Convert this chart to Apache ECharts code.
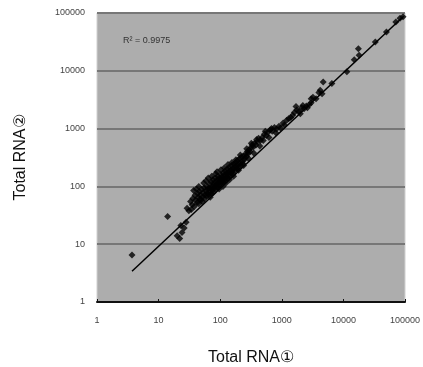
<!DOCTYPE html>
<html>
<head>
<meta charset="utf-8">
<script src="https://cdn.jsdelivr.net/npm/echarts@6/dist/echarts.min.js"></script>
<style>
  html, body { margin: 0; padding: 0; background: #fff; }
  #chart { width: 423px; height: 367px; }
</style>
</head>
<body>
<div id="chart"></div>
<script>
// measured points [Total RNA1, Total RNA2]
const points = [
  [3.7, 6.5], [14, 30], [20, 14], [22, 12.5], [24, 16], [26, 19], [23, 21], [28, 24],
  [29, 42], [31, 38], [33, 55], [35, 48], [36, 62], [38, 45], [39, 70], [40, 58],
  [42, 52], [43, 75], [44, 64], [45, 50], [46, 82], [47, 60], [48, 70], [50, 88],
  [51, 55], [52, 66], [53, 78], [55, 95], [56, 62], [57, 72], [58, 84], [60, 68],
  [61, 100], [62, 76], [63, 88], [65, 72], [66, 94], [67, 110], [68, 80], [70, 90],
  [71, 120], [72, 75], [74, 98], [75, 85], [76, 130], [78, 105], [79, 92], [80, 115],
  [82, 100], [83, 140], [85, 88], [86, 122], [88, 108], [90, 96], [91, 132], [92, 150],
  [94, 115], [95, 104], [97, 138], [99, 125], [100, 110], [102, 160], [104, 120], [106, 145],
  [108, 130], [110, 118], [112, 170], [114, 140], [116, 126], [118, 155], [120, 185], [122, 135],
  [125, 165], [128, 148], [130, 200], [132, 140], [135, 175], [138, 160], [140, 215], [143, 150],
  [146, 190], [150, 170], [153, 230], [156, 182], [160, 200], [163, 165], [166, 245], [170, 210],
  [174, 190], [178, 260], [182, 225], [186, 205], [190, 280], [195, 240], [200, 215], [205, 300],
  [210, 255], [215, 230], [220, 320], [226, 270], [232, 250], [238, 340], [245, 290], [252, 310],
  [260, 360], [268, 330], [275, 400], [285, 370], [295, 430], [305, 400], [318, 470], [330, 520],
  [345, 480], [360, 560], [380, 520], [400, 600], [420, 680], [450, 620], [480, 700], [520, 800],
  [560, 760], [600, 870], [650, 950], [700, 900], [760, 1050], [820, 980], [900, 1100], [950, 1020],
  [1050, 1250], [1200, 1400], [1400, 1550], [1600, 1900], [1750, 2100], [1900, 2000], [2100, 2300], [2300, 2200],
  [2500, 2450], [2800, 2600], [3200, 3500], [3600, 3300], [4200, 4600], [4700, 6400], [4500, 4000], [6500, 6000],
  [11400, 9600], [15000, 15500], [17500, 24000], [18000, 18500], [33000, 31500], [50000, 47000], [71000, 70000],
  [83000, 81000], [93000, 86000],
  [34, 40], [37, 85], [41, 90], [45, 100], [49, 58], [54, 115], [59, 125], [64, 140],
  [69, 65], [73, 150], [77, 78], [84, 165], [89, 180], [96, 90], [103, 195], [111, 100],
  [117, 210], [124, 115], [134, 240], [142, 130], [155, 260], [165, 150], [180, 290], [198, 190],
  [212, 350], [240, 230], [270, 450], [290, 300], [320, 560], [350, 380], [390, 650], [440, 500],
  [500, 620], [540, 900], [620, 700], [680, 1000], [800, 850], [1100, 1150], [1300, 1500], [1500, 1700],
  [1700, 2400], [2000, 1800], [2200, 2500], [2600, 2300], [3000, 2800], [3000, 3300], [4000, 4200]
];
// trend line end points
const trendline = [[3.7, 3.4], [95000, 88000]];
const rSquared = "R\u00b2 = 0.9975";
const xName = "Total RNA\u2460";
const yName = "Total RNA\u2461";

const mychart = echarts.init(document.getElementById("chart"));
const labelStyle = {
  color: "#444",
  fontSize: 9,
  fontFamily: "Liberation Sans, Arial",
  formatter: (v) => String(Math.round(v))
};
mychart.setOption({
  animation: false,
  title: {
    text: rSquared,
    left: 118,
    top: 31,
    textStyle: { fontSize: 9, fontWeight: "normal", color: "#333", fontFamily: "Liberation Sans, Arial" }
  },
  grid: {
    left: 97,
    right: 18,
    top: 13,
    bottom: 65,
    outerBoundsMode: "none",
    containLabel: false,
    show: true,
    backgroundColor: "#adadad",
    borderColor: "#d0d0d0",
    borderWidth: 1
  },
  xAxis: {
    type: "log",
    logBase: 10,
    min: 1,
    max: 100000,
    name: xName,
    nameLocation: "middle",
    nameGap: 48,
    nameTextStyle: { fontSize: 16, color: "#111", fontFamily: "Liberation Sans, Arial" },
    axisLine: { lineStyle: { color: "#111", width: 2 } },
    axisTick: { inside: true, length: 3, lineStyle: { color: "#111" } },
    axisLabel: Object.assign({ margin: 14 }, labelStyle),
    splitLine: { show: false }
  },
  yAxis: {
    type: "log",
    logBase: 10,
    min: 1,
    max: 100000,
    name: yName,
    nameLocation: "middle",
    nameGap: 68,
    nameTextStyle: { fontSize: 16, color: "#111", fontFamily: "Liberation Sans, Arial" },
    axisLine: { show: false },
    axisTick: { show: false },
    axisLabel: Object.assign({ margin: 12 }, labelStyle),
    splitLine: { show: true, lineStyle: { color: "#777", width: 2 } }
  },
  series: [
    {
      type: "scatter",
      data: points,
      symbol: "diamond",
      symbolSize: 7,
      itemStyle: { color: "#000" }
    },
    {
      type: "line",
      data: trendline,
      symbol: "none",
      lineStyle: { color: "#000", width: 1.5 }
    }
  ]
});
</script>
</body>
</html>
